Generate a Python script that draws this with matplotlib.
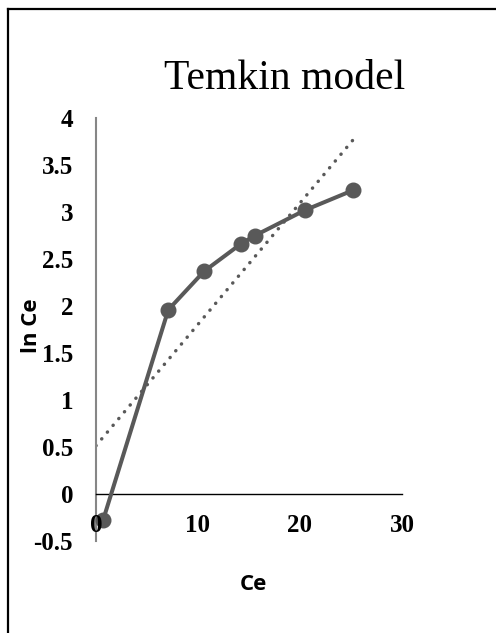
import numpy as np
import matplotlib.pyplot as plt
from matplotlib.lines import Line2D

# 吸着平衡データ
ce = [0.69, 7.09, 10.6, 14.19, 15.59, 20.49, 25.16]
ln_ce = [-0.28, 1.96, 2.37, 2.66, 2.75, 3.02, 3.23]
x_ticks = [0, 10, 20, 30]
y_ticks = [-0.5, 0, 0.5, 1, 1.5, 2, 2.5, 3, 3.5, 4]

fig = plt.figure(figsize=(4.96, 6.33), dpi=100)
ax = fig.add_axes([0.1935, 0.1453, 0.617, 0.6682])

# 枠線(上と左)
fig.add_artist(Line2D([0.016, 1.0], [0.986, 0.986], transform=fig.transFigure, color="black", lw=1.6))
fig.add_artist(Line2D([0.016, 0.016], [0.0, 0.986], transform=fig.transFigure, color="black", lw=1.6))

gray = "#595959"
ax.plot(ce, ln_ce, color=gray, lw=2.9, marker="o", ms=10.5, zorder=3, clip_on=False)

# 線形近似
slope, intercept = np.polyfit(ce, ln_ce, 1)
xx = np.array([0, max(ce)])
ax.plot(xx, slope * xx + intercept, color=gray, lw=2.5, linestyle=(0, (0.05, 2.5)),
        dash_capstyle="round", zorder=2)

ax.set_xlim(0, 30)
ax.set_ylim(-0.5, 4)
ax.set_xticks(x_ticks)
ax.set_yticks(y_ticks)
ax.set_yticklabels([f"{v:g}" for v in y_ticks])

for s in ["top", "right"]:
    ax.spines[s].set_visible(False)
ax.spines["bottom"].set_position(("data", 0))
ax.spines["bottom"].set_color("black")
ax.spines["bottom"].set_linewidth(1.0)
ax.spines["left"].set_color("#868686")
ax.spines["left"].set_linewidth(1.5)
ax.xaxis.set_zorder(4)
ax.yaxis.set_zorder(4)

ax.tick_params(axis="both", length=0)
ax.tick_params(axis="y", pad=16.5)
ax.tick_params(axis="x", pad=14.5)
for t in ax.get_xticklabels() + ax.get_yticklabels():
    t.set_family("Liberation Serif")
    t.set_fontsize(18)
    t.set_fontweight("bold")

fig.text(0.573, 0.876, "Temkin model", family="Liberation Serif", fontsize=30,
         ha="center", va="center")
fig.text(0.51, 0.077, "Ce", family="Open Sans", weight="bold", fontsize=16,
         ha="center", va="center")
fig.text(0.064, 0.486, "ln Ce", family="Open Sans", weight="bold", fontsize=16,
         ha="center", va="center", rotation=90)

fig.savefig("out.png", dpi=100)
